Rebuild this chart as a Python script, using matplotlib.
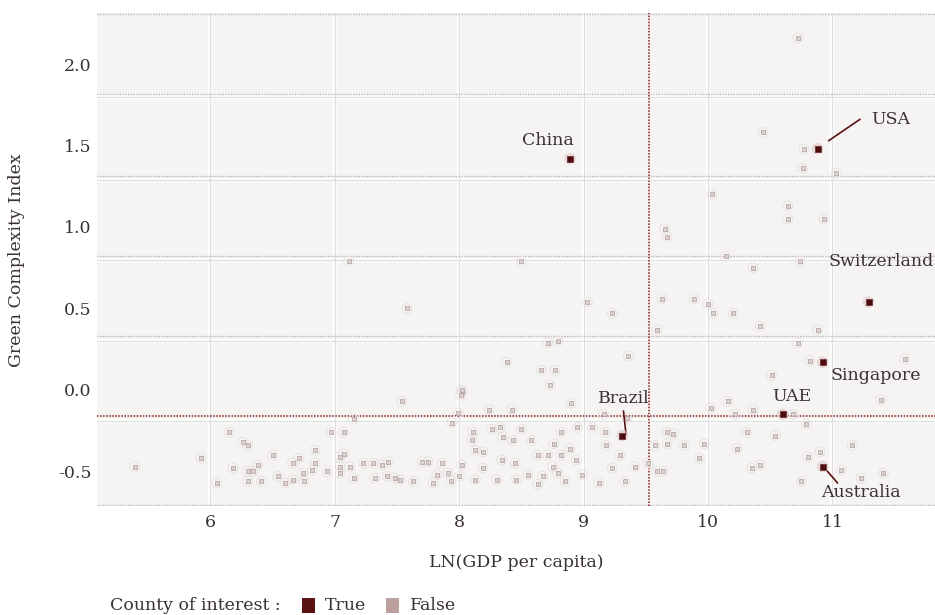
import matplotlib
matplotlib.use("Agg")
import matplotlib.pyplot as plt
from matplotlib.patches import Rectangle

plt.rcParams['font.family'] = ['DejaVu Serif']

# ---- data: countries not of interest (ln GDP per capita, Green Complexity Index)
other_x = [5.39, 5.92, 6.05, 6.15, 6.18, 6.26, 6.30, 6.30, 6.34, 6.30, 6.38, 6.41, 6.50, 6.54,
           6.60, 6.66, 6.66, 6.71, 6.74, 6.75, 6.82, 6.84, 6.84, 6.94, 6.97, 7.07, 7.04, 7.07,
           7.04, 7.04, 7.12, 7.15, 7.15, 7.23, 7.31, 7.38, 7.32, 7.43, 7.42, 7.48, 7.54, 7.52,
           7.63, 7.70, 7.75, 7.79, 7.82, 7.86, 7.91, 7.93, 7.94, 7.11, 7.58,
           8.71, 8.79, 8.38, 8.66, 8.77, 8.73, 8.02, 8.02, 8.01, 7.99, 8.24, 8.42, 8.90, 9.16,
           8.11, 8.10, 8.26, 8.33, 8.35, 8.43, 8.50, 8.58, 8.82, 8.76, 8.89, 8.95, 8.13, 8.19,
           8.63, 8.71, 8.82, 8.94, 8.34, 8.45, 8.19, 8.02, 8.75, 8.79, 8.99, 8.55, 8.67, 8.46,
           8.30, 8.13, 8.00, 8.63, 8.85, 9.12, 9.33, 9.23, 9.41, 9.29, 9.18, 9.07, 9.17,
           9.23, 9.59, 9.67, 9.72, 9.57, 9.67, 9.81, 9.97, 9.52, 9.59, 9.64, 9.35, 9.36,
           10.72, 10.44, 10.77, 10.76, 11.03, 10.03, 10.64, 10.64, 10.93, 9.65, 9.67, 10.14,
           10.36, 10.74, 8.50, 9.03, 9.63, 9.89, 10.00, 10.04, 10.20, 10.42, 10.88, 10.72,
           10.82, 11.58, 10.51, 11.39, 10.16, 10.02, 10.36, 10.22, 10.68, 10.79, 10.31, 10.54,
           10.23, 11.16, 10.90, 10.80, 9.93, 10.42, 10.35, 11.07, 11.23, 11.41, 10.75]
other_y = [-0.47, -0.42, -0.57, -0.26, -0.48, -0.32, -0.34, -0.50, -0.50, -0.56, -0.46, -0.56, -0.40, -0.53,
           -0.57, -0.55, -0.45, -0.42, -0.51, -0.56, -0.49, -0.37, -0.45, -0.50, -0.26, -0.26, -0.41, -0.39,
           -0.47, -0.51, -0.47, -0.18, -0.54, -0.45, -0.45, -0.46, -0.54, -0.44, -0.53, -0.54, -0.07, -0.55,
           -0.56, -0.44, -0.44, -0.57, -0.52, -0.45, -0.51, -0.56, -0.20, 0.79, 0.50,
           0.29, 0.30, 0.17, 0.12, 0.12, 0.03, -0.01, 0.00, -0.03, -0.14, -0.12, -0.12, -0.08, -0.15,
           -0.26, -0.31, -0.24, -0.23, -0.29, -0.31, -0.24, -0.31, -0.26, -0.33, -0.36, -0.23, -0.37, -0.38,
           -0.40, -0.40, -0.40, -0.43, -0.43, -0.45, -0.48, -0.46, -0.47, -0.51, -0.52, -0.52, -0.53, -0.55,
           -0.55, -0.55, -0.53, -0.58, -0.56, -0.57, -0.56, -0.48, -0.47, -0.40, -0.34, -0.23, -0.26,
           0.47, 0.37, -0.26, -0.27, -0.34, -0.33, -0.34, -0.33, -0.45, -0.50, -0.50, -0.17, 0.21,
           2.16, 1.58, 1.48, 1.36, 1.33, 1.20, 1.13, 1.05, 1.05, 0.99, 0.94, 0.82,
           0.75, 0.79, 0.79, 0.54, 0.56, 0.56, 0.53, 0.47, 0.47, 0.39, 0.37, 0.29,
           0.18, 0.19, 0.09, -0.06, -0.07, -0.11, -0.12, -0.15, -0.15, -0.21, -0.26, -0.28,
           -0.36, -0.34, -0.38, -0.41, -0.42, -0.46, -0.48, -0.49, -0.54, -0.51, -0.56]

# ---- countries of interest
focus_names = ['China', 'USA', 'Switzerland', 'Singapore', 'UAE', 'Brazil', 'Australia']
focus_x = [8.89, 10.88, 11.29, 10.92, 10.60, 9.31, 10.92]
focus_y = [1.42, 1.48, 0.54, 0.17, -0.15, -0.28, -0.47]

# reference lines (averages)
mean_x = 9.525
mean_y = -0.16

x_ticks = [6, 7, 8, 9, 10, 11]
y_ticks = [-0.5, 0.0, 0.5, 1.0, 1.5, 2.0]
y_tick_labels = ['-0.5', '0.0', '0.5', '1.0', '1.5', '2.0']

TEXT = '#3a3232'
DARK = '#5a1212'
LIGHT = '#bc9f9f'

fig = plt.figure(figsize=(9.35, 6.15), dpi=100)
ax = fig.add_axes([97 / 935, 1 - 506 / 615, 1 - 97 / 935, (506 - 13) / 615])
ax.set_facecolor('#f5f4f3')
ax.set_xlim(5.088, 11.824)
ax.set_ylim(-0.712, 2.313)

for s in ax.spines.values():
    s.set_visible(False)

# white grid with light gray core
for xv in x_ticks:
    ax.axvline(xv, color='white', lw=3.2, zorder=0.5)
    ax.axvline(xv, color='#dedede', lw=0.9, zorder=0.6)
for yv in [1.795, 1.29, 0.80, 0.30, -0.19]:
    ax.axhline(yv, color='white', lw=3.2, zorder=0.5)
    ax.axhline(yv, color='#dedede', lw=0.9, zorder=0.6)
# dotted lines
for yv in [2.305, 1.815, 1.31, 0.82, 0.33, -0.705]:
    ax.axhline(yv, color='#bdb7b7', lw=1.0, ls=(0, (1, 1)), zorder=0.7)

ax.axhline(mean_y, color='#8a1a1a', lw=1.1, ls=(0, (1, 1)), zorder=0.8)
ax.axvline(mean_x, color='#8a1a1a', lw=1.1, ls=(0, (1, 1)), zorder=0.8)

# points
ax.scatter(other_x, other_y, s=50, facecolor='none', edgecolor='#e6dfdf', lw=0.6, zorder=2)
ax.scatter(other_x, other_y, s=10, marker='s', facecolor='#ddd0d0', edgecolor='#b09c9c',
           lw=0.5, zorder=3)
ax.scatter(focus_x, focus_y, s=70, facecolor='#dcc8c8', edgecolor='none', alpha=0.6, zorder=4)
ax.scatter(focus_x, focus_y, s=18, marker='s', facecolor='#4a0c0c', edgecolor='#6e2a2a',
           lw=0.5, zorder=5)

fs = 12.5
# annotations
ax.text(8.71, 1.53, 'China', ha='center', va='center', fontsize=fs, color=TEXT)
ax.text(11.47, 1.66, 'USA', ha='center', va='center', fontsize=fs, color=TEXT)
ax.plot([10.97, 11.22], [1.53, 1.66], color=DARK, lw=1.2)
ax.text(11.815, 0.79, 'Switzerland', ha='right', va='center', fontsize=fs, color=TEXT)
ax.text(10.98, 0.086, 'Singapore', ha='left', va='center', fontsize=fs, color=TEXT)
ax.text(10.67, -0.04, 'UAE', ha='center', va='center', fontsize=fs, color=TEXT)
ax.text(9.32, -0.055, 'Brazil', ha='center', va='center', fontsize=fs, color=TEXT)
ax.plot([9.32, 9.34], [-0.13, -0.27], color=DARK, lw=1.2)
ax.text(11.23, -0.63, 'Australia', ha='center', va='center', fontsize=fs, color=TEXT)
ax.plot([10.96, 11.04], [-0.50, -0.57], color=DARK, lw=1.2)

ax.set_xticks(x_ticks)
ax.set_yticks(y_ticks)
ax.set_yticklabels(y_tick_labels)
ax.tick_params(length=0, labelsize=fs, colors=TEXT, pad=6)
ax.tick_params(axis='y', pad=4)

ax.set_xlabel('LN(GDP per capita)', fontsize=fs, color=TEXT, labelpad=16)
fig.text(17 / 935, 1 - 260 / 615, 'Green Complexity Index', rotation=90, ha='center',
         va='center', fontsize=fs, color=TEXT)

# legend at bottom
ly = 1 - 605 / 615
fig.text(110 / 935, ly, 'County of interest :', ha='left', va='center', fontsize=fs, color=TEXT)
fig.patches.append(Rectangle((302 / 935, 1 - 613 / 615), 13 / 935, 15 / 615,
                             transform=fig.transFigure, facecolor='#5a1212', edgecolor='none'))
fig.text(325 / 935, ly, 'True', ha='left', va='center', fontsize=fs, color=TEXT)
fig.patches.append(Rectangle((386 / 935, 1 - 613 / 615), 13 / 935, 15 / 615,
                             transform=fig.transFigure, facecolor=LIGHT, edgecolor='none'))
fig.text(410 / 935, ly, 'False', ha='left', va='center', fontsize=fs, color=TEXT)

fig.savefig('out.png', dpi=100, facecolor='white')
